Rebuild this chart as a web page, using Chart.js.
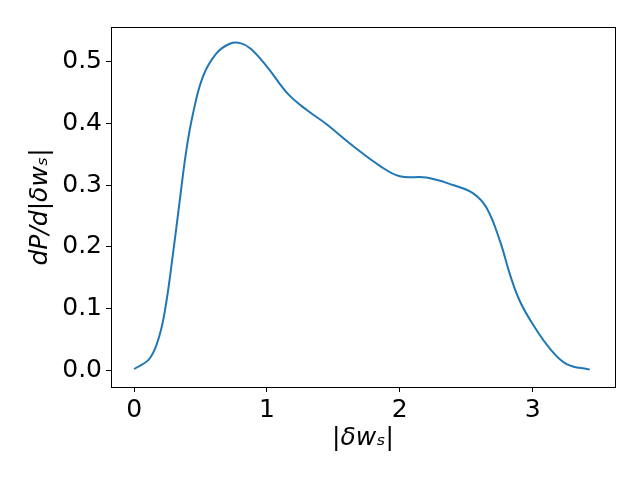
<!DOCTYPE html>
<html>
<head>
<meta charset="utf-8">
<script src="https://cdn.jsdelivr.net/npm/chart.js@4"></script>
<style>
  html, body { margin: 0; padding: 0; background: #fff; }
  #box { width: 640px; height: 480px; }
</style>
</head>
<body>
<div id="box"><canvas id="dist"></canvas></div>
<script>
// |delta w_s| values and density
var dw_list = [0, 0.117, 0.192, 0.243, 0.292, 0.343, 0.393, 0.443, 0.518, 0.618, 0.72, 0.80, 0.878, 1.004, 1.158, 1.3,
               1.449, 1.648, 1.85, 2.0, 2.2, 2.4, 2.55, 2.654, 2.755, 2.83, 2.905, 3.005, 3.13, 3.256, 3.43];
var dens_list = [0.003, 0.020, 0.058, 0.112, 0.188, 0.274, 0.356, 0.415, 0.475, 0.512, 0.528, 0.529, 0.520, 0.490, 0.447, 0.421,
                 0.398, 0.363, 0.331, 0.314, 0.312, 0.300, 0.287, 0.263, 0.209, 0.155, 0.112, 0.074, 0.036, 0.011, 0.002];
var x_ticks = [0, 1, 2, 3];
var y_ticks = [0.0, 0.1, 0.2, 0.3, 0.4, 0.5];

var points = dw_list.map(function (x, i) { return {x: x, y: dens_list[i]}; });

var frame = {
    id: 'frame',
    afterDraw: function (chart) {
        var a = chart.chartArea, c = chart.ctx;
        c.save();
        c.strokeStyle = '#000';
        c.lineWidth = 1;
        c.strokeRect(Math.round(a.left) + 0.5, Math.round(a.top) + 0.5,
                     Math.round(a.right - a.left), Math.round(a.bottom - a.top));
        c.restore();
    }
};

var tickFont = {family: 'DejaVu Sans', size: 25};
var titleFont = {family: 'DejaVu Sans', size: 25, style: 'italic'};

var dist = new Chart(document.getElementById('dist'), {
    type: 'line',
    data: {
        datasets: [{
            data: points,
            borderColor: '#1f77b4',
            borderWidth: 2,
            pointRadius: 0,
            fill: false,
            tension: 0.4
        }]
    },
    options: {
        responsive: true,
        maintainAspectRatio: false,
        animation: false,
        layout: {padding: {top: 27, right: 25, left: 0, bottom: 0}},
        plugins: {legend: {display: false}, tooltip: {enabled: false}},
        scales: {
            x: {
                type: 'linear',
                min: -0.174,
                max: 3.62,
                afterBuildTicks: function (s) { s.ticks = x_ticks.map(function (v) { return {value: v}; }); },
                afterFit: function (s) { s.height = 93; },
                grid: {drawOnChartArea: false, drawTicks: true, tickLength: 5, color: '#000'},
                border: {display: true, color: '#000'},
                ticks: {font: tickFont, color: '#000', padding: 3, maxRotation: 0,
                        callback: function (v) { return v.toFixed(0); }},
                title: {display: true, text: '|δwₛ|', font: titleFont, color: '#000', padding: {top: 0, bottom: 27}}
            },
            y: {
                type: 'linear',
                min: -0.026,
                max: 0.555,
                afterBuildTicks: function (s) { s.ticks = y_ticks.map(function (v) { return {value: v}; }); },
                afterFit: function (s) { s.width = 111; },
                grid: {drawOnChartArea: false, drawTicks: true, tickLength: 5, color: '#000'},
                border: {display: true, color: '#000'},
                ticks: {font: tickFont, color: '#000', padding: 4,
                        callback: function (v) { return v.toFixed(1); }},
                title: {display: true, text: 'dP/d|δwₛ|', font: titleFont, color: '#000', padding: {top: 25, bottom: 0}}
            }
        }
    },
    plugins: [frame]
});
</script>
</body>
</html>
